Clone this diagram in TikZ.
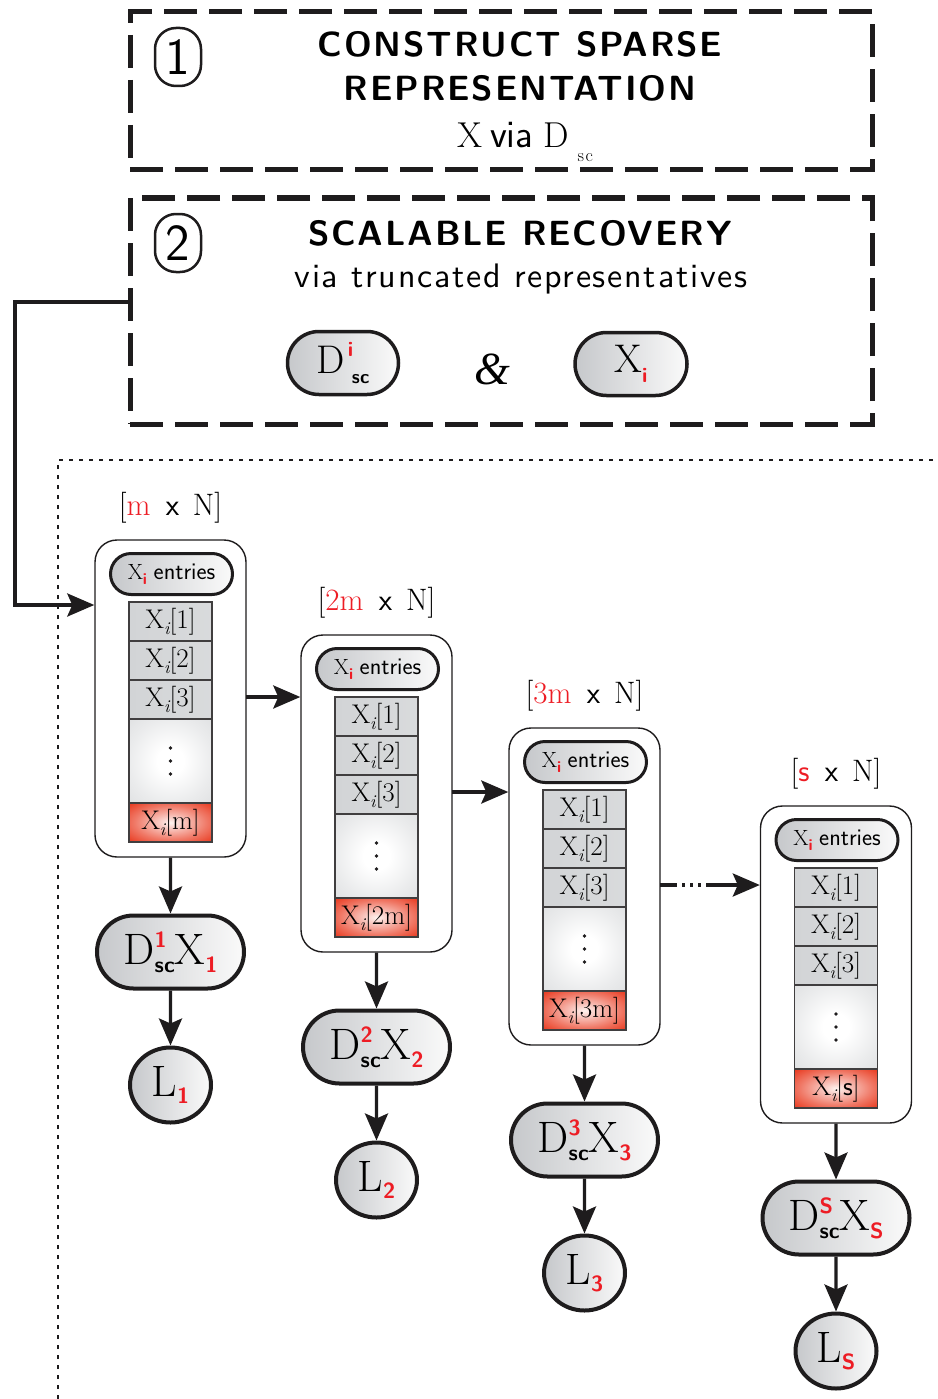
\documentclass[tikz,border=0pt]{standalone}
\usepackage{fontspec}
\usetikzlibrary{arrows.meta,shapes.misc,shapes.geometric}

\newfontfamily\ampfont{Liberation Serif Italic}
\newfontfamily\headfont{lmsans10-bold.otf}[LetterSpace=5.3]
\newfontfamily\subfont{lmsans10-regular.otf}[LetterSpace=5.2]

\definecolor{accent}{RGB}{237,28,36}
\definecolor{ink}{RGB}{30,28,29}
\definecolor{pillL}{RGB}{198,200,203}
\definecolor{pillR}{RGB}{250,250,250}
\definecolor{cellG}{RGB}{210,212,214}
\definecolor{cellR}{RGB}{233,62,36}
\definecolor{cellRin}{RGB}{255,244,240}

% soft glows for the entry cells
\pgfdeclareradialshading{redglow}{\pgfpoint{0bp}{0bp}}{%
  color(0bp)=(cellRin); color(8bp)=(cellR!30!white); color(22bp)=(cellR!70!white);
  color(34bp)=(cellR); color(50bp)=(cellR)}
\pgfdeclareradialshading{grayglow}{\pgfpoint{0bp}{0bp}}{%
  color(0bp)=(white); color(8bp)=(white); color(25bp)=(cellG!45!white); color(50bp)=(cellG)}

% font helpers
\newcommand{\fs}[1]{\fontsize{#1}{#1}\selectfont}
\newcommand{\rsf}[2]{{\fs{#1}\sffamily\bfseries\color{accent}#2}}
\newcommand{\rsub}[3]{\raisebox{-#3}{\rsf{#1}{#2}}}
% D with a red superscript stacked over a bold "sc" subscript
\newcommand{\dsc}[5]{D\rlap{\raisebox{#3}{\rsf{#2}{#1}}}\raisebox{-#4}{\fs{#5}\sffamily\bfseries sc}}
% entry of the truncated vector
\newcommand{\xent}[1]{X\raisebox{-6pt}{\fs{18}\itshape i}[#1]}

\tikzset{
  dashbox/.style={draw=ink, line width=5pt, dash pattern=on 33pt off 12pt, inner sep=0pt},
  numoval/.style={draw=ink, line width=2.5pt, rounded corners=21pt, minimum width=46pt,
    minimum height=58pt, inner sep=0pt, font=\fs{52}\sffamily},
  head/.style={inner sep=0pt, font=\fs{35}\headfont},
  subhead/.style={inner sep=0pt, font=\fs{34}\subfont},
  pill/.style={rounded rectangle, draw=ink, left color=pillL, right color=pillR, inner sep=0pt},
  stagebox/.style={draw=ink, line width=1.4pt, rounded corners=22pt, fill=white,
    minimum width=151pt, minimum height=317pt, inner sep=0pt},
  entries/.style={pill, line width=3pt, minimum width=122pt, minimum height=41pt},
  cell/.style={draw=ink!85, line width=1.3pt, minimum width=83pt, minimum height=39pt, inner sep=0pt,
    left color=cellG, middle color=white, right color=cellG!85, font=\fs{27}},
  dotcell/.style={draw=ink!85, line width=1.3pt, minimum width=83pt, minimum height=84pt, inner sep=0pt,
    shading=grayglow},
  redcell/.style={draw=ink!85, line width=1.3pt, minimum width=83pt, minimum height=39pt, inner sep=0pt,
    shading=redglow, font=\fs{27}},
  prod/.style={pill, line width=4pt, minimum width=147pt, minimum height=73pt, font=\fs{44}},
  loss/.style={ellipse, draw=ink, line width=4pt, left color=pillL, right color=pillR,
    minimum width=81pt, minimum height=75pt, inner sep=0pt, font=\fs{44}},
  dimlabel/.style={inner sep=0pt, font=\fs{31}},
  arr/.style={draw=ink, line width=3.4pt, -{Stealth[length=27pt,width=23pt,inset=5pt]}},
  frame/.style={draw=ink, line width=2pt, dash pattern=on 4pt off 6pt},
}

% one recovery stage: id, centre x, top y, size label, last entry, index
\newcommand{\stage}[6]{%
  \node[dimlabel, anchor=base] (t#1) at (#2, #3-25) {#4};
  \node[stagebox] (b#1) at (#2, #3+158.5) {};
  \node[entries] (e#1) at (#2+1, #3+34)
    {\fs{22}X\rsub{16}{i}{5pt}\ \fs{24}\sffamily entries};
  \node[cell] (c#1a) at (#2, #3+81.5) {\xent{1}};
  \node[cell] (c#1b) at (#2, #3+120.5) {\xent{2}};
  \node[cell] (c#1c) at (#2, #3+159.5) {\xent{3}};
  \node[dotcell] (c#1d) at (#2, #3+221) {};
  \fill[ink] (#2, #3+208) circle (1.8) (#2, #3+221) circle (1.8) (#2, #3+234) circle (1.8);
  \node[redcell] (c#1e) at (#2, #3+282.5) {\xent{#5}};
  \node[prod] (p#1) at (#2, #3+412) {\dsc{#6}{22}{17pt}{8pt}{22}X\rsub{22}{#6}{8pt}};
  \node[loss] (l#1) at (#2, #3+545) {L\rsub{22}{#6}{7pt}};
  \draw[arr] (b#1) -- (p#1);
  \draw[arr] (p#1) -- (l#1);
  \coordinate (o#1) at (#2+75.5, #3+157);
}

\begin{document}
\begin{tikzpicture}[x=1pt, y=-1pt]
\useasboundingbox (0,0) rectangle (937,1399);

% dotted frame round the recovery stages
\draw[frame] (58,1399) -- (58,460) -- (937,460);

% step 1
\node[dashbox, minimum width=742pt, minimum height=158pt] (s1) at (501,91) {};
\node[numoval] (n1) at (178,57) {1};
\node[head, anchor=base] (h1a) at (520,57) {CONSTRUCT SPARSE};
\node[head, anchor=base] (h1b) at (520,101) {REPRESENTATION};
\node[inner sep=0pt, anchor=base] (h1c) at (525,148)
  {\fs{36}X\hspace{8pt}{\fs{39}\sffamily via}\hspace{10pt}D\hspace{9pt}\raisebox{-14pt}{\fs{18}s\hspace{1.5pt}c}};

% step 2
\node[dashbox, minimum width=742pt, minimum height=226pt] (s2) at (501,311) {};
\node[numoval] (n2) at (178,243) {2};
\node[head, anchor=base] (h2a) at (520,245) {SCALABLE RECOVERY};
\node[subhead, anchor=base] (h2b) at (521,287) {via truncated representatives};
\node[pill, line width=3.5pt, minimum width=111pt, minimum height=63pt] (dsc) at (343,363)
  {\fs{40}D\hspace{3pt}\rlap{\raisebox{17pt}{\rsf{21}{i}}}\hspace{4pt}\raisebox{-10pt}{\fs{19}\sffamily\bfseries sc}};
\node[inner sep=0pt] (amp) at (492,369) {\fs{46}\ampfont\&};
\node[pill, line width=3.5pt, minimum width=112pt, minimum height=63pt] (xi) at (631,364)
  {\fs{40}X\rsub{21}{i}{10pt}};

% stages
\stage{1}{170.5}{540}{[\textcolor{accent}{m}\hspace{6pt} \sffamily x\hspace{4pt} \rmfamily N]}{m}{1}
\stage{2}{376.5}{635}{[\textcolor{accent}{2m}\hspace{6pt} \sffamily x\hspace{4pt} \rmfamily N]}{2m}{2}
\stage{3}{584.5}{728}{[\textcolor{accent}{3m}\hspace{6pt} \sffamily x\hspace{4pt} \rmfamily N]}{3m}{3}
\stage{4}{836}{806}{[\textcolor{accent}{\sffamily s}\hspace{6pt} \sffamily x\hspace{4pt} \rmfamily N]}{\textsf{s}}{S}

% flow between stages
\draw[arr] (o1) -- (o1 -| b2.west);
\draw[arr] (o2) -- (o2 -| b3.west);
\draw[arr, dash pattern=on 17pt off 5pt on 3pt off 5pt on 3pt off 5pt on 3pt off 5pt on 300pt]
  (o3) -- (o3 -| b4.west);

% entry from step 2 into the first stage
\coordinate (k1) at (15,302);
\coordinate (k2) at (15,605);
\draw[arr] (s2.west |- k1) -- (k1) -- (k2) -- (b1.west |- k2);
\end{tikzpicture}
\end{document}
